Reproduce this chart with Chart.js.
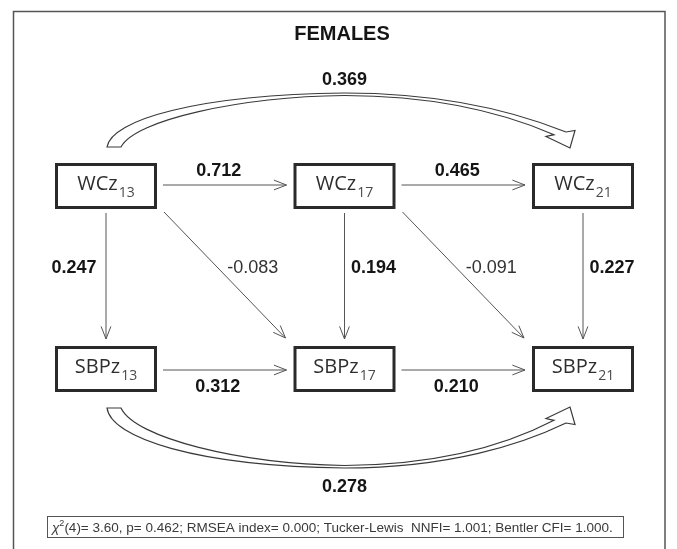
<!DOCTYPE html>
<html>
<head>
<meta charset="utf-8">
<script src="https://cdn.jsdelivr.net/npm/chart.js@4/dist/chart.umd.min.js"></script>
<style>
html,body{margin:0;padding:0;background:#fff;}
canvas{display:block;}
</style>
</head>
<body>
<canvas id="c" width="677" height="549"></canvas>
<script>
// ---- data ----
const ages = [13, 17, 21];
const variables = ['WCz', 'SBPz'];
const rowValue = [1, 0];
const wcAutoregressive = [0.712, 0.465];
const sbpAutoregressive = [0.312, 0.210];
const crossSectional = [0.247, 0.194, 0.227];
const crossLagged = [-0.083, -0.091];
const crossLaggedSignificant = [false, false];
const longTerm = [0.369, 0.278];
const titleText = 'FEMALES';
const fitSymbol = 'χ';
const fitSup = '2';
const fitText = '(4)= 3.60, p= 0.462; RMSEA index= 0.000; Tucker-Lewis  NNFI= 1.001; Bentler CFI= 1.000.';

// ---- nodes for the library ----
const nodePoints = [];
variables.forEach((v, r) => ages.forEach(a => nodePoints.push({x: a, y: rowValue[r]})));

const BOLD = 'bold 18px "Liberation Sans", Arial, sans-serif';
const NORMAL = '18px "Liberation Sans", Arial, sans-serif';

function arrow(ctx, x1, y1, x2, y2) {
  ctx.save();
  ctx.strokeStyle = '#555';
  ctx.lineWidth = 1;
  ctx.beginPath(); ctx.moveTo(x1, y1); ctx.lineTo(x2, y2); ctx.stroke();
  const ang = Math.atan2(y2 - y1, x2 - x1);
  const L = 13.5, a = 0.37;
  ctx.beginPath();
  ctx.moveTo(x2 - L * Math.cos(ang - a), y2 - L * Math.sin(ang - a));
  ctx.lineTo(x2, y2);
  ctx.lineTo(x2 - L * Math.cos(ang + a), y2 - L * Math.sin(ang + a));
  ctx.stroke();
  ctx.restore();
}
function label(ctx, v, x, y, sig) {
  ctx.save();
  ctx.font = sig ? BOLD : NORMAL;
  ctx.fillStyle = sig ? '#151515' : '#333';
  ctx.textAlign = 'center';
  ctx.textBaseline = 'middle';
  ctx.fillText(v.toFixed(3), x, y);
  ctx.restore();
}
function curved(ctx, cx0, cx1, edgeY, dir, d) {
  const yb = edgeY + dir * 16;
  const P = (x, off) => [x, yb + dir * off];
  const x0 = cx0 + 1, x0i = cx0 + 15, xm = (cx0 + cx1) / 2;
  const N2 = P(cx1 - 17, 15), B2 = P(cx1 - 8, 16.5), T = P(cx1 - 13, -1), B1 = P(cx1 - 37, 10.5), N1 = P(cx1 - 29, 12.3);
  ctx.save();
  ctx.beginPath();
  let p = P(x0, 0); ctx.moveTo(p[0], p[1]);
  let c1 = P(x0 + 4, 0.5 * d), c2 = P(x0 + 90, 0.97 * d), e = P(xm, d);
  ctx.bezierCurveTo(c1[0], c1[1], c2[0], c2[1], e[0], e[1]);
  c1 = P(xm + 105, 1.0 * d); c2 = P(xm + 178, 0.6 * d);
  ctx.bezierCurveTo(c1[0], c1[1], c2[0], c2[1], N2[0], N2[1]);
  ctx.lineTo(B2[0], B2[1]); ctx.lineTo(T[0], T[1]); ctx.lineTo(B1[0], B1[1]); ctx.lineTo(N1[0], N1[1]);
  c1 = P(xm + 172, 0.53 * d); c2 = P(xm + 105, 0.95 * d); e = P(xm, d - 2.5);
  ctx.bezierCurveTo(c1[0], c1[1], c2[0], c2[1], e[0], e[1]);
  c1 = P(xm - 105, 0.93 * d); c2 = P(x0i + 14, 0.5 * d); e = P(x0i, 0);
  ctx.bezierCurveTo(c1[0], c1[1], c2[0], c2[1], e[0], e[1]);
  ctx.closePath();
  ctx.fillStyle = '#fff';
  ctx.fill();
  ctx.strokeStyle = '#3a3a3a';
  ctx.lineWidth = 1.2;
  ctx.stroke();
  ctx.restore();
}

const diagram = {
  id: 'diagram',
  beforeDraw(chart) {
    const ctx = chart.ctx;
    ctx.save();
    ctx.fillStyle = '#fff';
    ctx.fillRect(0, 0, chart.width, chart.height);
    ctx.restore();
  },
  afterDatasetsDraw(chart) {
    const ctx = chart.ctx;
    const X = a => chart.scales.x.getPixelForValue(a);
    const Y = r => chart.scales.y.getPixelForValue(rowValue[r]);
    const HW = 51, HH = 23;

    // outer frame
    ctx.save();
    ctx.strokeStyle = '#555'; ctx.lineWidth = 1.5;
    ctx.strokeRect(13.5, 11.5, 651.5, 600);
    ctx.restore();

    // title
    ctx.save();
    ctx.font = 'bold 20px "Liberation Sans", Arial, sans-serif';
    ctx.fillStyle = '#151515'; ctx.textAlign = 'center'; ctx.textBaseline = 'middle';
    ctx.fillText(titleText, 342, 34);
    ctx.restore();

    // boxes
    const MAINF = '20px "Open Sans", sans-serif';
    const SUBF = '14px "Open Sans", sans-serif';
    variables.forEach((v, r) => ages.forEach(a => {
      const cx = X(a), cy = Y(r);
      ctx.save();
      ctx.strokeStyle = '#2a2a2a'; ctx.lineWidth = 3;
      ctx.strokeRect(cx - HW + 1.5, cy - HH + 1.5, 2 * HW - 3, 2 * HH - 3);
      ctx.font = MAINF;
      const w1 = ctx.measureText(v).width;
      ctx.font = SUBF;
      const w2 = ctx.measureText(String(a)).width;
      const sx = cx - (w1 + w2 + 1) / 2;
      ctx.textBaseline = 'alphabetic'; ctx.textAlign = 'left';
      ctx.fillStyle = '#2e2e2e';
      ctx.font = MAINF;
      ctx.fillText(v, sx, cy + 4);
      ctx.fillStyle = '#4a4a4a';
      ctx.font = SUBF;
      ctx.fillText(String(a), sx + w1 + 1, cy + 11);
      ctx.restore();
    }));

    // long-term curved paths
    curved(ctx, X(ages[0]), X(ages[2]), Y(0) - HH, -1, 54);
    curved(ctx, X(ages[0]), X(ages[2]), Y(1) + HH, 1, 60);
    label(ctx, longTerm[0], (X(ages[0]) + X(ages[2])) / 2, 80, true);
    label(ctx, longTerm[1], (X(ages[0]) + X(ages[2])) / 2, 487, true);

    // autoregressive horizontal paths
    wcAutoregressive.forEach((v, i) => {
      const x1 = X(ages[i]) + HW + 6, x2 = X(ages[i + 1]) - HW - 7, y = Y(0) - 1;
      arrow(ctx, x1, y, x2, y);
      label(ctx, v, (x1 + x2) / 2 - 6, y - 14, true);
    });
    sbpAutoregressive.forEach((v, i) => {
      const x1 = X(ages[i]) + HW + 6, x2 = X(ages[i + 1]) - HW - 7, y = Y(1) + 1;
      arrow(ctx, x1, y, x2, y);
      label(ctx, v, (x1 + x2) / 2 - 7, y + 17, true);
    });
    // cross-sectional vertical paths
    crossSectional.forEach((v, i) => {
      const x = X(ages[i]), y1 = Y(0) + HH + 4, y2 = Y(1) - HH - 7;
      arrow(ctx, x, y1, x, y2);
      label(ctx, v, x + (i === 0 ? -32 : 29), (y1 + y2) / 2 - 8, true);
    });
    // cross-lagged diagonal paths
    crossLagged.forEach((v, i) => {
      const x1 = X(ages[i]) + HW + 7, y1 = Y(0) + HH + 3;
      const x2 = X(ages[i + 1]) - HW - 8, y2 = Y(1) - HH - 8;
      arrow(ctx, x1, y1, x2, y2);
      label(ctx, v, (x1 + x2) / 2 + 28, (y1 + y2) / 2 - 7, crossLaggedSignificant[i]);
    });

    // fit statistics box
    ctx.save();
    ctx.strokeStyle = '#555'; ctx.lineWidth = 1;
    ctx.strokeRect(47.5, 516.5, 576, 21);
    ctx.fillStyle = '#3a3a3a'; ctx.textBaseline = 'alphabetic'; ctx.textAlign = 'left';
    let tx = 52;
    ctx.font = 'italic 13.5px "Liberation Sans", Arial, sans-serif';
    ctx.fillText(fitSymbol, tx, 531.5); tx += ctx.measureText(fitSymbol).width;
    ctx.font = '9px "Liberation Sans", Arial, sans-serif';
    ctx.fillText(fitSup, tx, 526); tx += ctx.measureText(fitSup).width;
    ctx.font = '13.5px "Liberation Sans", Arial, sans-serif';
    ctx.fillText(fitText, tx, 531.5);
    ctx.restore();
  }
};

const pxPerYear = 59.625;
new Chart(document.getElementById('c'), {
  type: 'scatter',
  data: { datasets: [{ data: nodePoints, pointRadius: 0, pointHoverRadius: 0 }] },
  options: {
    responsive: false,
    animation: false,
    events: [],
    layout: { padding: 0 },
    plugins: { legend: { display: false }, tooltip: { enabled: false }, title: { display: false } },
    scales: {
      x: { type: 'linear', display: false, min: 13 - 106 / pxPerYear, max: 21 + (677 - 583) / pxPerYear },
      y: { type: 'linear', display: false, min: 369 / 183 - 3, max: 369 / 183 }
    }
  },
  plugins: [diagram]
});
</script>
</body>
</html>
